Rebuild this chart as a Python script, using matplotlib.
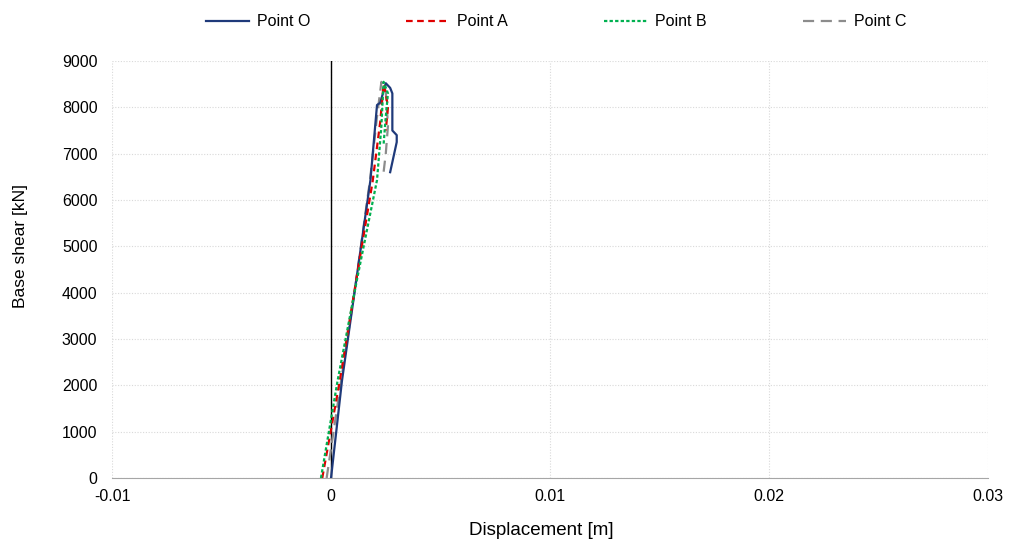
import numpy as np
import matplotlib.pyplot as plt

plt.rcParams['font.family'] = ['Liberation Sans', 'DejaVu Sans']

# Displacement [m] and base shear [kN]
disp_o = [0.0, 0.0005, 0.0018, 0.0021, 0.00225, 0.0025, 0.0027, 0.0028, 0.0028, 0.0030, 0.0030, 0.0027]
shear_o = [0, 2100, 6430, 8050, 8100, 8520, 8420, 8300, 7500, 7400, 7250, 6600]

disp_a = [-0.0004, 0.0004, 0.00115, 0.0019, 0.00225, 0.0024, 0.0025, 0.0026, 0.0025]
shear_a = [0, 2100, 4270, 6400, 7700, 8500, 8300, 8000, 7500]

disp_b = [-0.00046, 0.0003, 0.00118, 0.0021, 0.0023, 0.0024, 0.0026, 0.0025, 0.0024]
shear_b = [0, 2100, 4270, 6430, 7600, 8550, 8300, 7800, 7200]

disp_c = [-0.0002, 0.00046, 0.00115, 0.00178, 0.0021, 0.0023, 0.0025, 0.0026, 0.0025, 0.0024]
shear_c = [0, 2100, 4270, 6430, 7800, 8550, 8350, 7600, 7000, 6600]

x_ticks = [-0.01, 0.0, 0.01, 0.02, 0.03]
x_labels = ['-0.01', '0', '0.01', '0.02', '0.03']
y_ticks = list(range(0, 9001, 1000))

fig = plt.figure(figsize=(10.11, 5.44), dpi=100)
ax = fig.add_axes([0.1108, 0.1213, 0.8665, 0.7666])

ax.plot(disp_o, shear_o, color='#1F3A7A', lw=1.6, label='Point O', zorder=3)
ax.plot(disp_a, shear_a, color='#E00000', lw=1.6, ls=(0, (3, 2)), label='Point A', zorder=4)
ax.plot(disp_b, shear_b, color='#00B050', lw=1.6, ls=(0, (1.5, 1)), label='Point B', zorder=5)
ax.plot(disp_c, shear_c, color='#8C8C8C', lw=1.6, ls=(0, (5, 3)), label='Point C', zorder=2)

ax.axvline(0, color='black', lw=1, zorder=1)

ax.set_xlim(-0.01, 0.03)
ax.set_ylim(0, 9000)
ax.set_xticks(x_ticks)
ax.set_xticklabels(x_labels)
ax.set_yticks(y_ticks)
ax.grid(True, color='#D9D9D9', ls=(0, (1, 1.5)), lw=0.8)
ax.set_axisbelow(True)

for side in ['top', 'right', 'left']:
    ax.spines[side].set_visible(False)
ax.spines['bottom'].set_color('#A6A6A6')
ax.tick_params(length=0, labelsize=11.5)
ax.tick_params(axis='y', pad=10.5)
ax.tick_params(axis='x', pad=8)

ax.set_xlabel('Displacement [m]', fontsize=13.5, va='center')
ax.xaxis.set_label_coords(0.4903, -0.1247)
ax.set_ylabel('Base shear [kN]', fontsize=12.5, va='center')
ax.yaxis.set_label_coords(-0.105, 0.556)

fig.legend(loc='upper center', bbox_to_anchor=(0.55, 1.0), ncol=4, frameon=False,
           fontsize=11.5, handlelength=2.7, columnspacing=6.0, handletextpad=0.5)

fig.savefig('out.png', dpi=100)
